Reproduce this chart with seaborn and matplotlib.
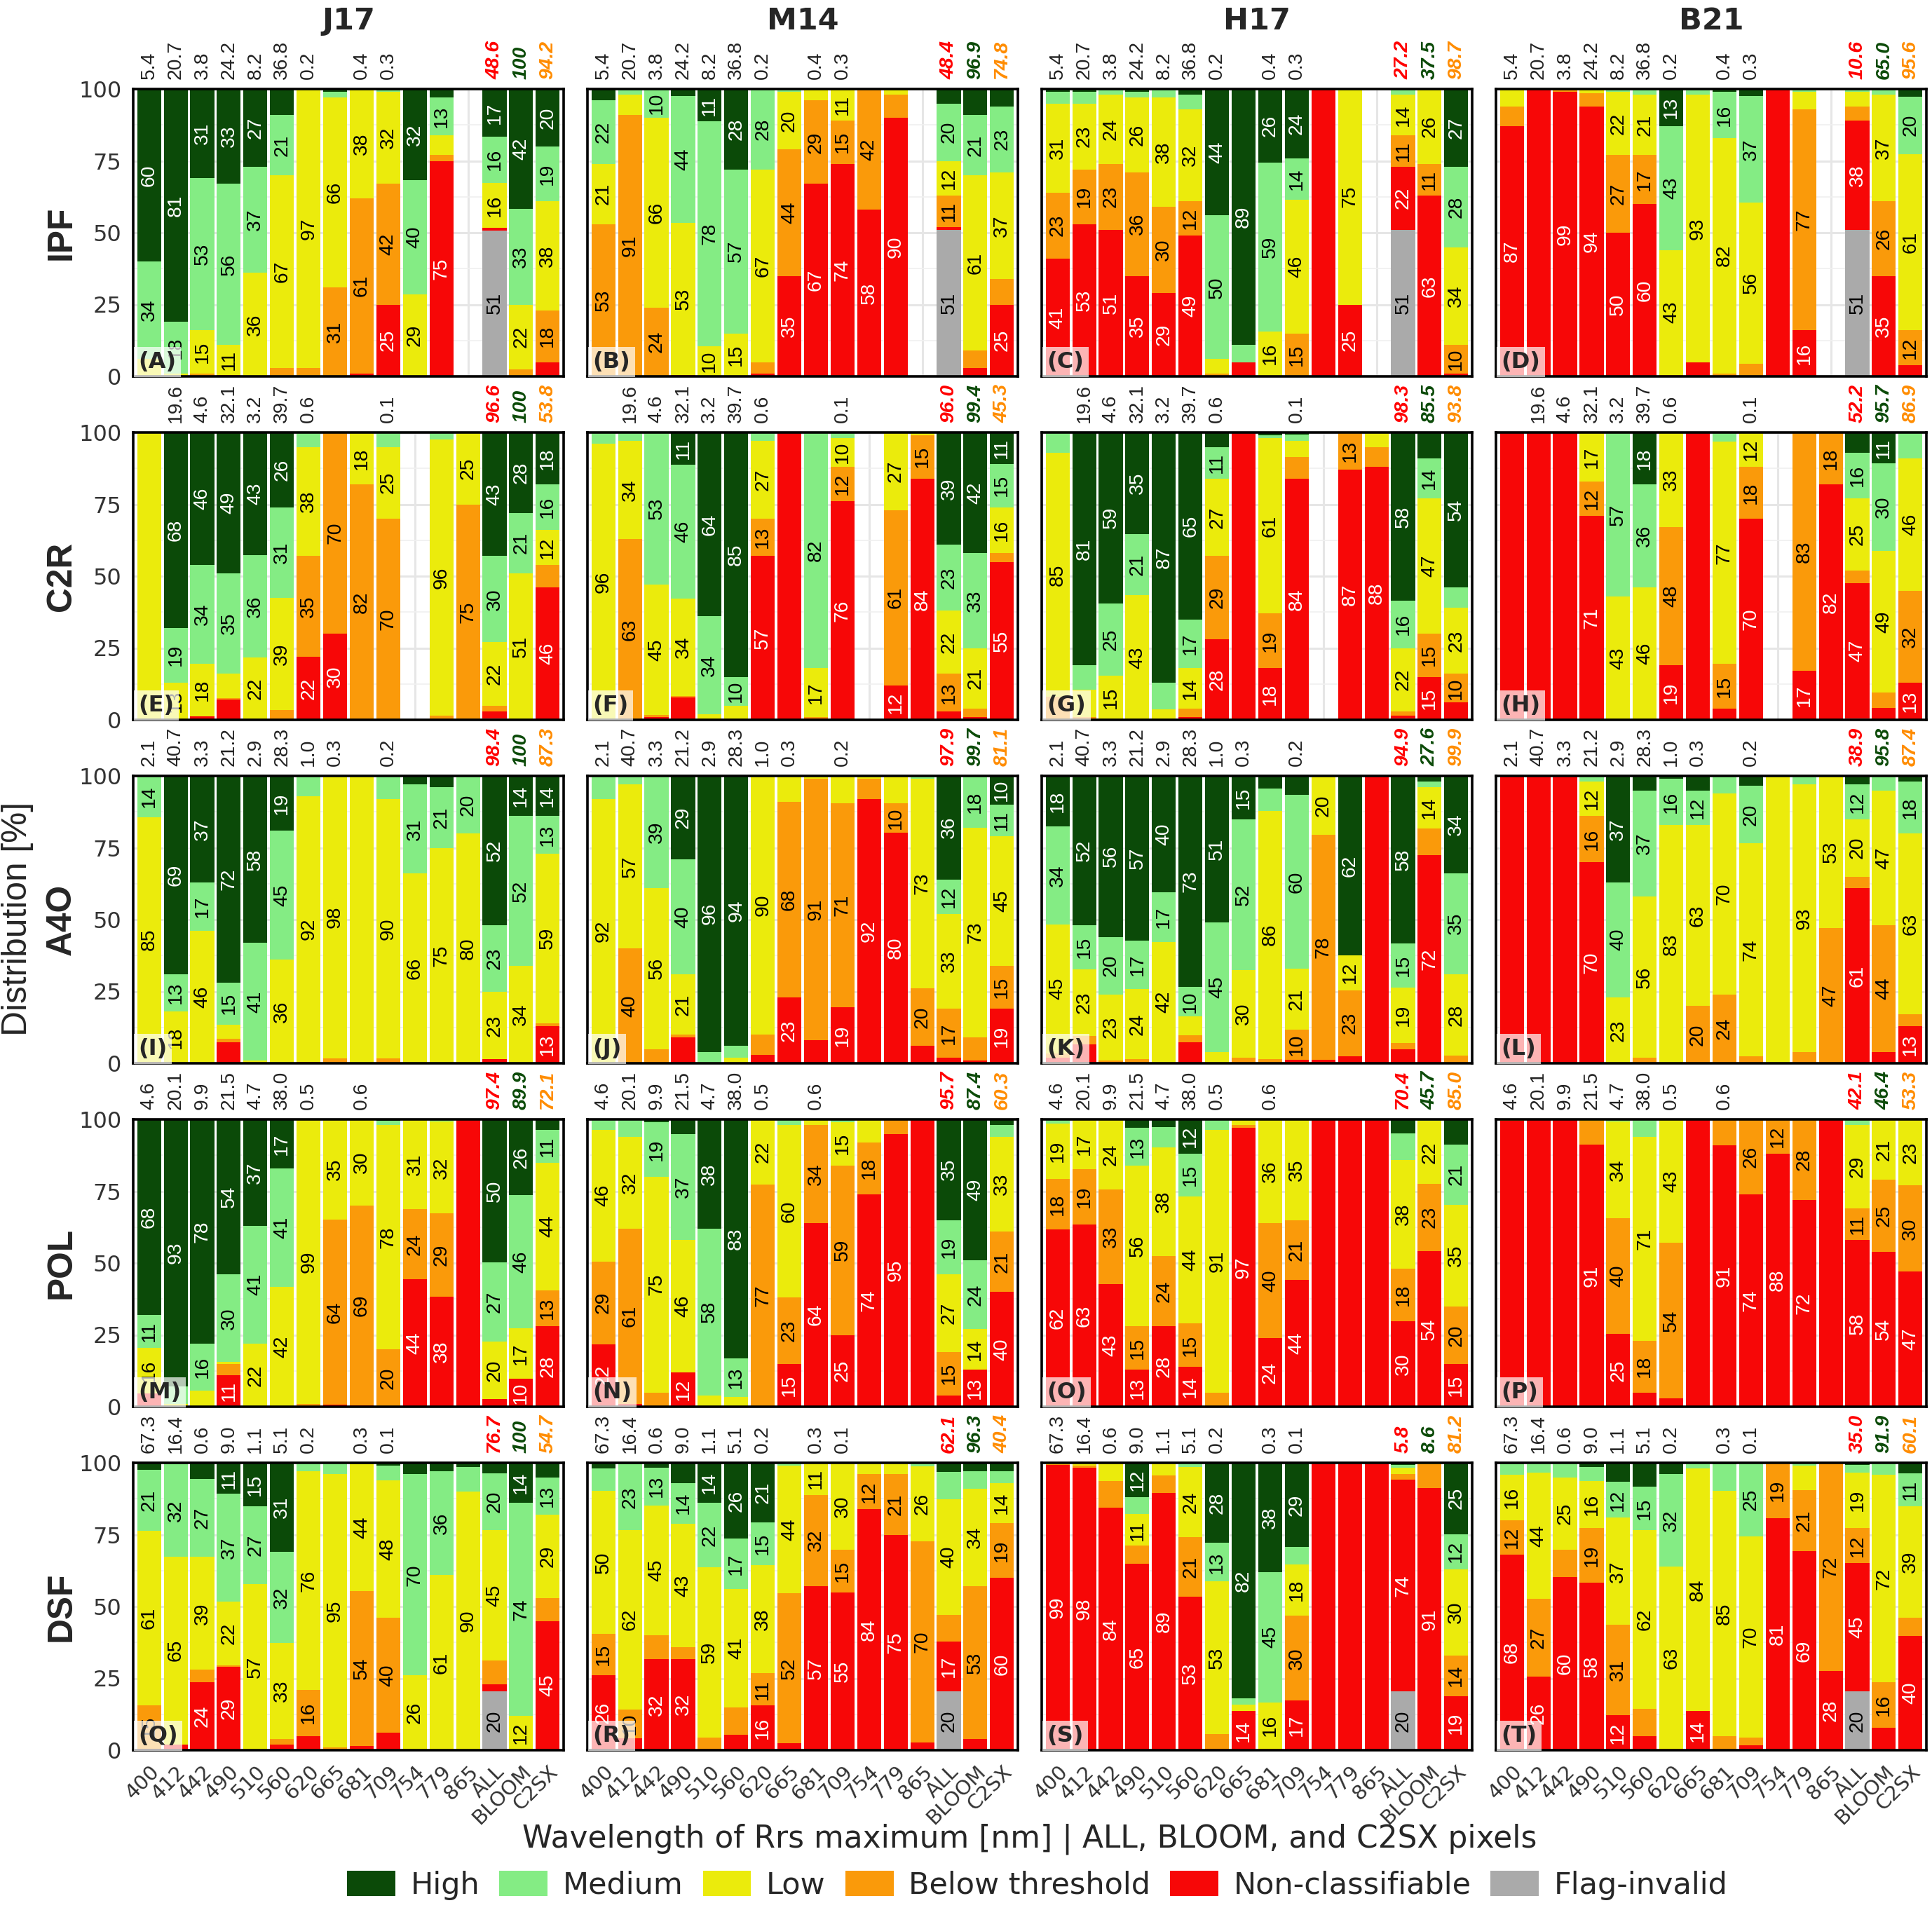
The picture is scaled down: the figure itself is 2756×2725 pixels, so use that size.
import numpy as np
import pandas as pd
import matplotlib
matplotlib.use('Agg')
import matplotlib.pyplot as plt
from matplotlib import font_manager
from matplotlib.patches import Patch
from matplotlib.ticker import MultipleLocator
import seaborn as sns

# x axis: wavelength of the Rrs maximum, then the three pixel subsets
wavelengths = ['400', '412', '442', '490', '510', '560', '620', '665',
               '681', '709', '754', '779', '865']
subsets = ['ALL', 'BLOOM', 'C2SX']
x_labels = wavelengths + subsets

sensors = ['J17', 'M14', 'H17', 'B21']
datasets = ['IPF', 'C2R', 'A4O', 'POL', 'DSF']

# stacking order, bottom -> top; every bar below is given in this order
classes = ['Flag-invalid', 'Non-classifiable', 'Below threshold', 'Low', 'Medium', 'High']
legend_order = ['High', 'Medium', 'Low', 'Below threshold', 'Non-classifiable', 'Flag-invalid']
class_colors = {'High': '#0B4A08', 'Medium': '#84EC84', 'Low': '#EBEB0C',
                'Below threshold': '#FA9A0A', 'Non-classifiable': '#F70707',
                'Flag-invalid': '#AAAAAA'}
white_text = ['Non-classifiable', 'High']

# share [%] of the pixels per Rrs-maximum wavelength (same for the 4 sensors)
share_IPF = [5.4, 20.7, 3.8, 24.2, 8.2, 36.8, 0.2, None, 0.4, 0.3, None, None, None]
share_C2R = [None, 19.6, 4.6, 32.1, 3.2, 39.7, 0.6, None, None, 0.1, None, None, None]
share_A4O = [2.1, 40.7, 3.3, 21.2, 2.9, 28.3, 1.0, 0.3, None, 0.2, None, None, None]
share_POL = [4.6, 20.1, 9.9, 21.5, 4.7, 38.0, 0.5, None, 0.6, None, None, None, None]
share_DSF = [67.3, 16.4, 0.6, 9.0, 1.1, 5.1, 0.2, None, 0.3, 0.1, None, None, None]

# share [%] of ALL, BLOOM and C2SX pixels, one triple per dataset (IPF..DSF)
subset_J17 = [(48.6, 100, 94.2), (96.6, 100, 53.8), (98.4, 100, 87.3), (97.4, 89.9, 72.1), (76.7, 100, 54.7)]
subset_M14 = [(48.4, 96.9, 74.8), (96.0, 99.4, 45.3), (97.9, 99.7, 81.1), (95.7, 87.4, 60.3), (62.1, 96.3, 40.4)]
subset_H17 = [(27.2, 37.5, 98.7), (98.3, 85.5, 93.8), (94.9, 27.6, 99.9), (70.4, 45.7, 85.0), (5.8, 8.6, 81.2)]
subset_B21 = [(10.6, 65.0, 95.6), (52.2, 95.7, 86.9), (38.9, 95.8, 87.4), (42.1, 46.4, 53.3), (35.0, 91.9, 60.1)]
subset_colors = ['#FF0000', '#0B4A08', '#FF8C00']

# bars: (flag, non-classifiable, below threshold, low, medium, high) in %
J17_IPF = [(0, 0, 0, 6, 34, 60), (0, 0, 0, 1, 18, 81), (0, 0, 1, 15, 53, 31), (0, 0.4, 0, 10.6, 56, 33),
           (0, 0, 0, 36, 37, 27), (0, 0, 3, 67, 21, 9), (0, 0, 3, 97, 0, 0), (0, 0, 31, 66, 2, 1),
           (0, 1, 61, 38, 0, 0), (0, 25, 42, 32, 0.5, 0.5), (0, 0, 0, 28.6, 39.6, 31.8), (0, 75, 2, 7, 13, 3),
           None, (50.8, 0.8, 0, 15.8, 16, 16.6), (0, 0, 2.5, 22.4, 33.4, 41.7), (0, 5, 18, 38, 19, 20)]
M14_IPF = [(0, 0, 53, 21, 22, 4), (0, 0, 91, 7, 2, 0), (0, 0, 24, 66, 10, 0), (0, 0.5, 0, 53, 44, 2.5),
           (0, 0, 0, 10.4, 78.4, 11.2), (0, 0, 0, 15, 57, 28), (0, 1, 4, 67, 28, 0), (0, 35, 44, 20, 1, 0),
           (0, 67, 29, 4, 0, 0), (0, 74, 15, 11, 0, 0), (0, 58, 42, 0, 0, 0), (0, 90, 8, 2, 0, 0),
           None, (51, 1, 11, 12, 20, 5), (0, 3, 6, 61, 21, 9), (0, 25, 9, 37, 23, 6)]
H17_IPF = [(0, 41, 23, 31, 4, 1), (0, 53, 19, 23, 4, 1), (0, 51, 23, 24, 2, 0), (0, 35, 36, 26, 2, 1),
           (0, 29, 30, 38, 3, 0), (0, 49, 12, 32, 5, 2), (0, 0, 1, 5, 50, 44), (0, 5, 0, 0, 6, 89),
           (0, 0, 0, 15.7, 58.6, 25.7), (0, 0, 15, 46.4, 14.4, 24.2), (0, 100, 0, 0, 0, 0), (0, 25, 0, 75, 0, 0),
           None, (51, 22, 11, 14, 2, 0), (0, 63, 11, 26, 0, 0), (0, 1, 10, 34, 28, 27)]
B21_IPF = [(0, 87, 7, 6, 0, 0), (0, 100, 0, 0, 0, 0), (0, 99, 1, 0, 0, 0), (0, 94, 4.5, 1.5, 0, 0),
           (0, 50, 27, 22, 1, 0), (0, 60, 17, 21, 2, 0), (0, 0, 0.6, 43.4, 43, 13), (0, 5, 0, 93, 2, 0),
           (0, 0, 1, 82, 16, 1), (0, 0, 4.5, 56, 37, 2.5), (0, 100, 0, 0, 0, 0), (0, 16, 77, 6, 1, 0),
           None, (51, 38, 5, 5, 1, 0), (0, 35, 26, 37, 2, 0), (0, 4, 12, 61.4, 20, 2.6)]

J17_C2R = [(0, 0, 0, 100, 0, 0), (0, 0, 0, 13, 19, 68), (0, 1.2, 0, 18.4, 34.2, 46.2), (0, 7, 0.6, 8.4, 35, 49),
           (0, 0, 0, 21.6, 35.8, 42.6), (0, 0, 3.4, 39, 31.4, 26.2), (0, 22, 35, 38, 5, 0), (0, 30, 70, 0, 0, 0),
           (0, 0, 82, 18, 0, 0), (0, 0, 70, 25, 5, 0), None, (0, 0, 1.5, 96, 2.5, 0),
           (0, 0, 75, 25, 0, 0), (0.5, 2.5, 2, 22, 30, 43), (0, 0, 0, 51, 21, 28), (0, 46, 8, 12, 16, 18)]
M14_C2R = [(0, 0, 0, 96, 4, 0), (0, 0, 63, 34, 3, 0), (0, 1, 0.6, 45.4, 53, 0), (0, 7.8, 0.5, 34, 46.5, 11.2),
           (0, 0, 0, 2, 34, 64), (0, 0, 0, 5, 10, 85), (0, 57, 13, 27, 3, 0), (0, 100, 0, 0, 0, 0),
           (0, 0.5, 0.5, 17, 82, 0), (0, 76, 12, 10, 2, 0), None, (0, 12, 61, 27, 0, 0),
           (0, 84, 15, 1, 0, 0), (0, 3, 13, 22, 23, 39), (0, 1, 3, 21, 33, 42), (0, 55, 3, 16, 15, 11)]
H17_C2R = [(0, 0, 8, 85, 7, 0), (0, 0, 1, 9.4, 8.6, 81), (0, 0, 0, 15.4, 25.2, 59.4), (0, 0, 0, 43.4, 21.3, 35.3),
           (0, 0, 0, 3.6, 9.4, 87), (0, 1, 3, 14, 17, 65), (0, 28, 29, 27, 11, 5), (0, 100, 0, 0, 0, 0),
           (0, 18, 19, 61, 1, 1), (0, 84, 7.5, 5.5, 2.3, 0.7), None, (0, 87, 13, 0, 0, 0),
           (0, 88, 7, 5, 0, 0), (0.5, 1, 1.5, 22, 16.5, 58.5), (0, 15, 15, 47, 14, 9), (0, 6, 10, 23, 7, 54)]
B21_C2R = [(0, 100, 0, 0, 0, 0), (0, 100, 0, 0, 0, 0), (0, 100, 0, 0, 0, 0), (0, 71, 12, 17, 0, 0),
           (0, 0, 0, 43, 57, 0), (0, 0, 0, 46, 36, 18), (0, 19, 48, 33, 0, 0), (0, 100, 0, 0, 0, 0),
           (0, 4, 15.4, 77.4, 3.2, 0), (0, 70, 18, 12, 0, 0), None, (0, 17, 83, 0, 0, 0),
           (0, 82, 18, 0, 0, 0), (0.5, 47, 4.5, 25, 16, 7), (0, 4.2, 5.2, 49.4, 30.4, 10.8), (0, 13, 32, 46, 9, 0)]

J17_A4O = [(0, 0, 0.6, 85, 14.4, 0), (0, 0, 0, 18, 13, 69), (0, 0, 0, 46, 17, 37), (0, 7.3, 1.2, 5, 14.6, 71.9),
           (0, 0, 0, 1, 41, 58), (0, 0, 0, 36, 45, 19), (0, 0.5, 0, 92.4, 7.1, 0), (0, 0, 1.6, 98.4, 0, 0),
           (0, 0, 0, 100, 0, 0), (0, 0, 1.6, 90.4, 8, 0), (0, 0, 0, 66, 31, 3), (0, 0, 0, 75, 21.2, 3.8),
           (0, 0, 0, 80, 20, 0), (0, 1.5, 0, 23.3, 23.2, 52), (0, 0, 0, 34, 52, 14), (0, 13, 1, 59, 13, 14)]
M14_A4O = [(0, 0, 0, 92, 8, 0), (0, 0, 40, 57, 3, 0), (0, 0, 5, 56, 39, 0), (0, 9, 1, 21, 40, 29),
           (0, 0, 0, 0, 4, 96), (0, 0, 0, 2, 4, 94), (0, 3, 7, 90, 0, 0), (0, 23, 68, 9, 0, 0),
           (0, 8, 91, 1, 0, 0), (0, 19.4, 71.2, 9.4, 0, 0), (0, 92, 7, 1, 0, 0), (0, 80.2, 10.4, 9.4, 0, 0),
           (0, 6, 20, 73, 1, 0), (0, 2, 17, 33, 12, 36), (0, 1, 8, 73, 18, 0), (0, 19, 15, 45, 11, 10)]
H17_A4O = [(0, 2, 1.5, 44.9, 34, 17.6), (0, 6.5, 3, 23.3, 15.2, 52), (0, 0, 1, 23, 20, 56), (0, 0, 1.5, 24.3, 16.9, 57.3),
           (0, 0, 0.3, 42, 17.2, 40.5), (0, 7.4, 2.4, 6.6, 10.2, 73.4), (0, 0, 0, 4, 45, 51), (0, 0, 2, 30.5, 52.4, 15.1),
           (0, 0, 1.5, 86.4, 7.6, 4.5), (0, 1.2, 10.4, 21.4, 60.4, 6.6), (0, 1.2, 78.4, 20.4, 0, 0), (0, 2.5, 22.9, 12.2, 0, 62.4),
           (0, 100, 0, 0, 0, 0), (0, 5, 2, 19.4, 15.4, 58.2), (0, 72.4, 9.3, 14.3, 2, 2), (0, 0, 2.6, 28.4, 35.2, 33.8)]
B21_A4O = [(0, 100, 0, 0, 0, 0), (0, 100, 0, 0, 0, 0), (0, 100, 0, 0, 0, 0), (0, 70, 16, 12, 2, 0),
           (0, 0, 0, 23, 40, 37), (0, 0, 2, 56, 37, 5), (0, 0, 0, 83, 16, 1), (0, 0, 20, 63, 12, 5),
           (0, 0, 24, 70, 6, 0), (0, 0, 2.5, 74, 20, 3.5), (0, 0, 0, 100, 0, 0), (0, 0, 4, 93, 3, 0),
           (0, 0, 47, 53, 0, 0), (0, 61, 4, 20, 12, 3), (0, 4, 44, 47, 5, 0), (0, 13, 4, 63, 18, 2)]

J17_POL = [(0, 4.6, 0, 16, 11.4, 68), (0, 0, 0, 1, 6, 93), (0, 0, 0, 5.6, 16.4, 78), (0, 11, 4, 0.5, 30.5, 54),
           (0, 0, 0, 22, 41, 37), (0, 0, 0, 41.6, 41.4, 17), (0, 0, 1, 99, 0, 0), (0, 0.7, 64.4, 34.9, 0, 0),
           (0, 0.6, 69.4, 30, 0, 0), (0, 0, 20, 78, 1.6, 0.4), (0, 44.4, 24.4, 31.2, 0, 0), (0, 38.4, 28.8, 32, 0.8, 0),
           (0, 100, 0, 0, 0, 0), (0, 2.6, 0, 20.2, 27.4, 49.8), (0, 9.8, 0, 17.4, 46.4, 26.4), (0, 28, 12.6, 44.4, 11.4, 3.6)]
M14_POL = [(0, 21.8, 28.8, 45.8, 3.6, 0), (0, 1, 61, 32, 6, 0), (0, 0, 5, 75, 19, 1), (0, 12, 0, 46, 37, 5),
           (0, 0, 0, 4, 58, 38), (0, 0, 0, 3.4, 13.4, 83.2), (0, 0, 77.4, 22.4, 0.2, 0), (0, 15, 23, 60, 2, 0),
           (0, 64, 34, 2, 0, 0), (0, 25, 59, 15, 1, 0), (0, 74, 18, 8, 0, 0), (0, 95, 5, 0, 0, 0),
           (0, 100, 0, 0, 0, 0), (0, 4, 15, 27, 19, 35), (0, 13, 0, 14, 24, 49), (0, 40, 21, 33, 4, 2)]
H17_POL = [(0, 61.6, 17.6, 19.4, 1.4, 0), (0, 63.4, 19.3, 17.3, 0, 0), (0, 42.7, 32.9, 24.4, 0, 0), (0, 12.9, 15.2, 55.7, 13.3, 2.9),
           (0, 28.1, 24.3, 37.8, 7.1, 2.7), (0, 13.8, 15.2, 44.2, 14.8, 12), (0, 0, 4.9, 91.4, 3.7, 0), (0, 97, 1, 2, 0, 0),
           (0, 23.9, 39.9, 36.2, 0, 0), (0, 44.1, 20.7, 35.2, 0, 0), (0, 100, 0, 0, 0, 0), (0, 100, 0, 0, 0, 0),
           (0, 100, 0, 0, 0, 0), (0, 29.8, 18.3, 37.8, 9.2, 4.9), (0, 54.2, 23.4, 21.9, 0.5, 0), (0, 14.9, 20, 35.4, 21, 8.7)]
B21_POL = [(0, 99.6, 0.4, 0, 0, 0), (0, 100, 0, 0, 0, 0), (0, 100, 0, 0, 0, 0), (0, 91.3, 8.2, 0.5, 0, 0),
           (0, 25.4, 40.2, 33.6, 0.8, 0), (0, 5, 18, 71, 6, 0), (0, 3, 54, 43, 0, 0), (0, 100, 0, 0, 0, 0),
           (0, 91, 9, 0, 0, 0), (0, 74, 26, 0, 0, 0), (0, 88, 12, 0, 0, 0), (0, 72, 28, 0, 0, 0),
           (0, 100, 0, 0, 0, 0), (0, 58, 11, 29, 2, 0), (0, 54, 25, 21, 0, 0), (0, 47, 30, 23, 0, 0)]

J17_DSF = [(0, 0.6, 15, 60.8, 21.2, 2.4), (0, 2, 0, 65.4, 32.1, 0.5), (0, 23.6, 4.4, 39.2, 27.2, 5.6), (0, 29.1, 0.4, 22.3, 37.4, 10.8),
           (0, 0, 0.3, 57.4, 27.2, 15.1), (0, 1.9, 2, 33.3, 31.9, 30.9), (0, 5, 16, 76, 3, 0), (0, 0, 1, 95, 4, 0),
           (0, 1.4, 54, 44, 0.2, 0.4), (0, 6, 40, 48, 5, 1), (0, 0, 0, 26, 70, 4), (0, 0, 0, 61, 36, 3),
           (0, 0, 0, 90, 8.5, 1.5), (20.4, 2.6, 8.3, 45.2, 19.8, 3.7), (0, 0, 0, 12, 74, 14), (0, 45, 8, 29, 13, 5)]
M14_DSF = [(0, 26, 14.6, 49.6, 7.8, 2), (0, 4.2, 10, 62.4, 22.8, 0.6), (0, 31.6, 8.4, 45.2, 13.2, 1.6), (0, 31.8, 4, 43, 14.2, 7),
           (0, 0.5, 4, 59.2, 22.3, 14), (0, 5.4, 9.4, 41.4, 17.4, 26.4), (0, 15.6, 11.2, 37.6, 14.8, 20.8), (0, 2.4, 52.2, 44.4, 1, 0),
           (0, 57.1, 31.8, 11.1, 0, 0), (0, 54.8, 15, 30.2, 0, 0), (0, 84, 12, 4, 0, 0), (0, 75, 21, 4, 0, 0),
           (0, 2.6, 70.2, 26, 1.2, 0), (20.4, 17.4, 9.2, 40.4, 9.4, 3.2), (0, 4, 53, 34, 6, 3), (0, 60, 19, 14, 4, 3)]
H17_DSF = [(0, 99.2, 0.4, 0.4, 0, 0), (0, 98.4, 0.6, 1, 0, 0), (0, 84.3, 9.4, 6.3, 0, 0), (0, 64.8, 6.3, 11, 6, 11.9),
           (0, 89.4, 6.2, 4.4, 0, 0), (0, 53.3, 20.8, 24.4, 1.5, 0), (0, 0.5, 5, 53.2, 13.4, 27.9), (0, 13.6, 0, 2.2, 2.2, 82),
           (0, 0, 0.5, 16.2, 45.3, 38), (0, 17.2, 29.6, 17.8, 6.2, 29.2), (0, 100, 0, 0, 0, 0), (0, 100, 0, 0, 0, 0),
           (0, 100, 0, 0, 0, 0), (20.4, 73.8, 1.8, 2.3, 1, 0.7), (0, 91.2, 8.3, 0.5, 0, 0), (0, 18.8, 14.2, 30, 12.2, 24.8)]
B21_DSF = [(0, 68.1, 11.8, 16, 3.6, 0.5), (0, 25.6, 27, 44, 3.4, 0), (0, 60.3, 9.4, 25.2, 5.1, 0), (0, 58.3, 19.1, 16.3, 4.9, 1.4),
           (0, 12.2, 31.4, 37.3, 12.4, 6.7), (0, 5, 9.3, 62.2, 15.2, 8.3), (0, 0, 0.5, 63.3, 32.4, 3.8), (0, 13.7, 0, 84.4, 1.9, 0),
           (0, 0, 4.9, 85.3, 9.4, 0.4), (0, 1.8, 2.7, 70, 25.3, 0.2), (0, 80.7, 19.3, 0, 0, 0), (0, 69.3, 21.2, 8.5, 1, 0),
           (0, 27.5, 72.5, 0, 0, 0), (20.4, 44.7, 12.1, 19.4, 2.7, 0.7), (0, 7.7, 16, 72.1, 4.2, 0), (0, 39.7, 6.3, 38.9, 11.4, 3.7)]

panels = {
    'IPF': [J17_IPF, M14_IPF, H17_IPF, B21_IPF],
    'C2R': [J17_C2R, M14_C2R, H17_C2R, B21_C2R],
    'A4O': [J17_A4O, M14_A4O, H17_A4O, B21_A4O],
    'POL': [J17_POL, M14_POL, H17_POL, B21_POL],
    'DSF': [J17_DSF, M14_DSF, H17_DSF, B21_DSF],
}
shares = {'IPF': share_IPF, 'C2R': share_C2R, 'A4O': share_A4O, 'POL': share_POL, 'DSF': share_DSF}
subset_shares = [subset_J17, subset_M14, subset_H17, subset_B21]

sns.set_theme(style='white')
plt.rcParams['font.family'] = ['DejaVu Sans']

# rotated texts look condensed in the original, use the narrow Arial clone if present
installed = {f.name for f in font_manager.fontManager.ttflist}
if 'Liberation Sans Narrow' in installed:
    rot_font, rot_scale = ['Liberation Sans Narrow', 'DejaVu Sans'], 1.0
else:
    rot_font, rot_scale = ['Liberation Sans', 'DejaVu Sans'], 0.85

W, H = 2756, 2725
fig = plt.figure(figsize=(W / 200, H / 200), dpi=200)

letters = 'ABCDEFGHIJKLMNOPQRST'
txt_dark = '#222222'

for r, ds in enumerate(datasets):
    for c, sen in enumerate(sensors):
        bars = panels[ds][c]
        left, top, pw, ph = 190 + 648 * c, 127 + 490 * r, 614, 410
        ax = fig.add_axes([left / W, 1 - (top + ph) / H, pw / W, ph / H])

        records = []
        for pos, bar in enumerate(bars):
            if bar is None:
                continue
            for cls, v in zip(classes, bar):
                records.append({'pos': pos, 'cls': cls, 'pct': v})
        df = pd.DataFrame(records)

        sns.histplot(data=df, x='pos', weights='pct', hue='cls', hue_order=classes[::-1],
                     multiple='stack', discrete=True, shrink=0.9, palette=class_colors,
                     alpha=1, linewidth=0, legend=False, ax=ax)

        # value labels inside the segments
        for pos, bar in enumerate(bars):
            if bar is None:
                continue
            base = 0
            for cls, v in zip(classes, bar):
                n = round(v)
                if 10 <= n < 100:
                    ax.text(pos, base + v / 2, str(n), rotation=90, ha='center', va='center',
                            fontsize=12 * rot_scale, family=rot_font,
                            color='white' if cls in white_text else 'black', zorder=4)
                base += v

        # pixel shares above the panel
        for pos, s in enumerate(shares[ds]):
            if s is not None:
                ax.annotate(f'{s:.1f}', (pos, 100), xytext=(0, 5), textcoords='offset points',
                            rotation=90, ha='center', va='bottom', fontsize=12 * rot_scale,
                            family=rot_font, color=txt_dark, annotation_clip=False)
        for k, s in enumerate(subset_shares[c][r]):
            lab = '100' if s == 100 else f'{s:.1f}'
            ax.annotate(lab, (13 + k, 100), xytext=(0, 5), textcoords='offset points',
                        rotation=90, ha='center', va='bottom', fontsize=12 * rot_scale,
                        family=rot_font, color=subset_colors[k],
                        fontweight='bold', fontstyle='italic', annotation_clip=False)

        ax.text(0.012, 0.012, f'({letters[r * 4 + c]})', transform=ax.transAxes, ha='left', va='bottom',
                fontsize=11.5, fontweight='bold', zorder=6,
                bbox=dict(boxstyle='square,pad=0.2', facecolor='white', alpha=0.7, edgecolor='none'))

        ax.set_xlim(-0.6, 15.6)
        ax.set_ylim(0, 100)
        ax.set_xticks(range(len(x_labels)))
        ax.yaxis.set_major_locator(MultipleLocator(25))
        ax.yaxis.set_minor_locator(MultipleLocator(12.5))
        ax.set_axisbelow(True)
        ax.grid(True, which='major', color='#E6E6E6', lw=1.1)
        ax.grid(True, which='minor', axis='y', color='#F0F0F0', lw=0.6)
        ax.set_xlabel('')
        ax.set_ylabel('')
        for sp in ax.spines.values():
            sp.set_color('black')
            sp.set_linewidth(1.3)

        if c == 0:
            ax.tick_params(axis='y', which='major', length=4, width=1, color='#333333',
                           labelsize=11.5, labelcolor='#333333', pad=2)
        else:
            ax.tick_params(axis='y', which='major', length=0, labelleft=False)
        ax.tick_params(axis='y', which='minor', length=0)
        if r == len(datasets) - 1:
            ax.set_xticklabels(x_labels, rotation=45, ha='right', rotation_mode='anchor')
            ax.tick_params(axis='x', length=4, width=1, color='#333333', labelsize=10.5,
                           labelcolor='#333333', pad=2)
        else:
            ax.tick_params(axis='x', length=0, labelbottom=False)

# facet strips, row labels, axis titles
for c, sen in enumerate(sensors):
    fig.text((190 + 648 * c + 307) / W, 1 - 30 / H, sen, ha='center', va='center',
             fontsize=15.5, fontweight='bold')
for r, ds in enumerate(datasets):
    fig.text(88 / W, 1 - (127 + 490 * r + 205) / H, ds, rotation=90, ha='center', va='center',
             fontsize=21 * rot_scale, family=rot_font, fontweight='bold')
fig.text(25 / W, 1 - 1311 / H, 'Distribution [%]', rotation=90, ha='center', va='center',
         fontsize=21 * rot_scale, family=rot_font)
fig.text(1469 / W, 1 - 2624 / H, 'Wavelength of Rrs maximum [nm] | ALL, BLOOM, and C2SX pixels',
         ha='center', va='center', fontsize=15.8)

handles = [Patch(facecolor=class_colors[k], edgecolor='none', label=k) for k in legend_order]
fig.legend(handles=handles, loc='center', bbox_to_anchor=(1480 / W, 1 - 2690 / H), ncol=6,
           frameon=False, fontsize=15.5, handlelength=1.6, handleheight=0.9,
           handletextpad=0.5, columnspacing=0.65)

fig.savefig('out.png', dpi=200)
